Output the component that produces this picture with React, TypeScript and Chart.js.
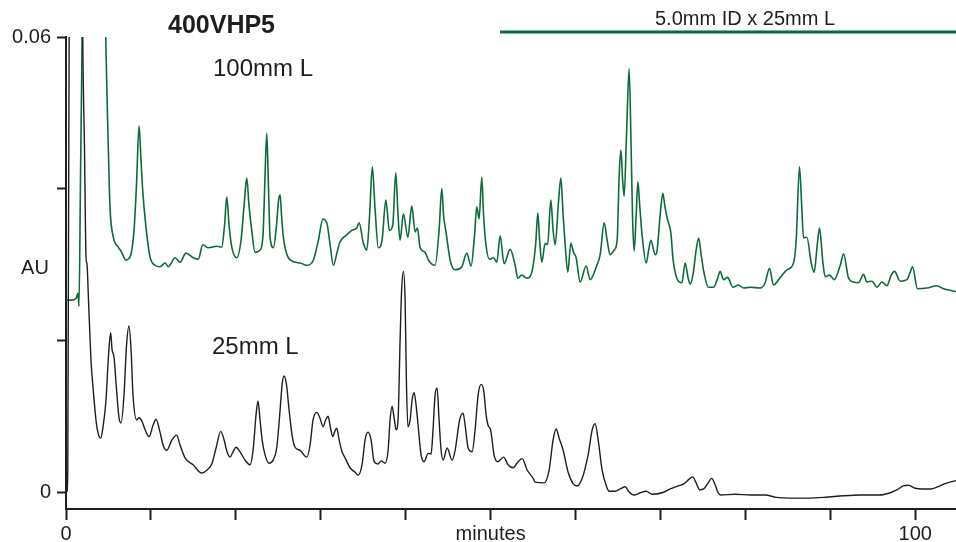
import React, { useEffect, useRef } from "react";
import { Chart, registerables } from "chart.js";

Chart.register(...registerables);

// ---- Data (minutes, AU) ----
const greenTime = [
  0, 0.59, 1.18, 1.41, 1.53, 1.71, 1.85, 2.1, 3.4, 4.4, 4.59,
  4.71, 4.98, 5.18, 5.57, 6.16, 6.56, 7.03, 7.54, 8.01, 8.3, 8.6, 8.83, 9.03, 9.42, 9.89,
  10.48, 11.07, 11.66, 12.05, 12.84, 13.43, 14.13, 14.99, 15.58, 16.1, 16.76, 17.75, 18.34, 18.67,
  18.93, 19.2, 19.52, 20.11, 20.61, 21.02, 21.28, 21.55, 21.87, 22.26, 22.85, 23.2, 23.44, 23.64,
  23.85, 24.03, 24.42, 24.79, 25.03, 25.21, 25.38, 25.59, 26.38, 27.56, 28.35, 29.13, 29.72, 30.24,
  30.71, 31.1, 31.48, 31.92, 32.27, 33.06, 33.65, 34.24, 34.51, 35.02, 35.42, 35.75, 36.07, 36.4,
  36.78, 37.22, 37.66, 38.08, 38.48, 38.83, 39.1, 39.34, 39.73, 40.25, 40.72, 41.11, 41.38, 41.7,
  42.29, 42.67, 43.46, 43.93, 44.25, 44.46, 44.76, 45.23, 45.82, 46.61, 47.19, 47.7, 48.11, 48.37,
  48.64, 48.96, 49.17, 49.43, 49.86, 50.33, 50.73, 51.12, 51.59, 52.3, 52.89, 53.2, 53.68, 54.26,
  54.85, 55.3, 55.56, 55.77, 56.03, 56.42, 56.71, 57.09, 57.36, 57.6, 58.01, 58.27, 58.54, 58.78,
  59.09, 59.45, 59.76, 60.07, 60.54, 61.25, 61.72, 62.51, 62.9, 63.37, 63.72, 64.07, 64.55, 64.9,
  65.14, 65.34, 65.55, 65.72, 66.02, 66.31, 66.55, 66.72, 66.9, 67.14, 67.34, 67.55, 67.81, 68.32,
  68.61, 68.87, 69.38, 69.61, 69.96, 70.28, 70.49, 70.75, 71.02, 71.22, 71.49, 71.93, 72.52, 72.91,
  73.26, 73.5, 73.85, 74.2, 74.5, 74.79, 75.06, 75.65, 76.24, 76.68, 77.03, 77.42, 77.89, 78.53,
  79.19, 79.78, 80.57, 81.74, 82.33, 82.84, 83.31, 84.1, 84.89, 85.67, 85.98, 86.37, 86.63, 86.84,
  87.24, 87.75, 88.1, 88.46, 88.73, 89.13, 89.4, 89.91, 90.46, 91.17, 91.56, 92.15, 92.73, 93.32,
  93.91, 94.31, 94.9, 95.49, 96.08, 96.67, 97.17, 97.56, 98.23, 99.02, 99.41, 99.68, 100.27, 101.37,
  102.55, 103.33, 104.1, 104.8,
];
const greenAU = [
  0.0253, 0.0253, 0.0255, 0.0262, 0.0245, 0.0417, 0.055, 0.08, 0.09, 0.08, 0.068,
  0.0583, 0.0455, 0.0376, 0.0336, 0.0323, 0.0316, 0.0306, 0.031, 0.0345, 0.0405, 0.0483, 0.0438, 0.0398, 0.0349, 0.031,
  0.0299, 0.0297, 0.0302, 0.0297, 0.0309, 0.0303, 0.0315, 0.0309, 0.0307, 0.0326, 0.0322, 0.0324, 0.0323, 0.0352,
  0.0389, 0.0352, 0.0323, 0.0309, 0.0332, 0.0385, 0.0414, 0.0378, 0.0345, 0.0316, 0.0319, 0.0339, 0.0418, 0.0473,
  0.0398, 0.0336, 0.0322, 0.0352, 0.0385, 0.0392, 0.0365, 0.0336, 0.0306, 0.0302, 0.0299, 0.0306, 0.0332, 0.036,
  0.0355, 0.0326, 0.0299, 0.0316, 0.033, 0.0339, 0.0345, 0.0348, 0.0355, 0.0328, 0.0319, 0.0365, 0.0429, 0.0372,
  0.0322, 0.0332, 0.0385, 0.0345, 0.0352, 0.0421, 0.0365, 0.0332, 0.0367, 0.0336, 0.0377, 0.0343, 0.0348, 0.0322,
  0.0316, 0.0306, 0.0299, 0.0345, 0.04, 0.0365, 0.0342, 0.0306, 0.0293, 0.0297, 0.0315, 0.0298, 0.0339, 0.0376,
  0.036, 0.0415, 0.0365, 0.0328, 0.0307, 0.0309, 0.0303, 0.0338, 0.0301, 0.032, 0.0299, 0.0282, 0.0286, 0.0282,
  0.029, 0.0326, 0.0368, 0.0332, 0.0303, 0.0328, 0.0326, 0.0385, 0.0345, 0.0326, 0.0385, 0.0414, 0.0365, 0.0326,
  0.029, 0.0328, 0.0316, 0.0309, 0.0277, 0.0298, 0.028, 0.0299, 0.0313, 0.0355, 0.0332, 0.0313, 0.0319, 0.0332,
  0.0418, 0.0451, 0.0411, 0.039, 0.0477, 0.0558, 0.0451, 0.0359, 0.0318, 0.0365, 0.0409, 0.0379, 0.0342, 0.0302,
  0.0319, 0.0332, 0.0313, 0.0319, 0.0365, 0.0394, 0.0379, 0.0363, 0.0352, 0.0342, 0.0306, 0.0282, 0.0276, 0.0302,
  0.0282, 0.0274, 0.0288, 0.0319, 0.0335, 0.0313, 0.0293, 0.027, 0.027, 0.028, 0.0291, 0.028, 0.0283, 0.027,
  0.0273, 0.0269, 0.027, 0.0269, 0.0276, 0.0295, 0.0273, 0.0283, 0.0293, 0.0302, 0.0332, 0.0429, 0.0378, 0.0335,
  0.0336, 0.0302, 0.029, 0.0326, 0.0348, 0.0302, 0.0284, 0.0286, 0.028, 0.0299, 0.0314, 0.0282, 0.0277, 0.0276,
  0.0287, 0.0277, 0.0278, 0.027, 0.0277, 0.0272, 0.0286, 0.0291, 0.0278, 0.028, 0.029, 0.0297, 0.0268, 0.0269,
  0.0272, 0.0268, 0.0266, 0.0264,
];

const blackTime = [
  0, 0.12, 0.21, 0.45, 1.0, 1.8, 1.97, 2.18, 2.36, 2.47, 2.65, 2.94, 3.18, 3.53, 3.77, 4.09, 4.36,
  4.71, 5.01, 5.26, 5.42, 5.65, 5.95, 6.24, 6.48, 6.83, 7.13, 7.42, 7.66, 7.89, 8.33, 8.6, 8.92,
  9.31, 9.78, 10.25, 10.6, 11.07, 11.43, 11.86, 12.49, 13.04, 13.43, 14.02, 14.96, 15.98, 16.61, 17.2,
  17.67, 18.22, 18.61, 18.96, 19.32, 19.67, 20.02, 20.49, 21.08, 21.67, 22.03, 22.38, 22.61, 22.85,
  23.09, 23.44, 23.91, 24.38, 24.82, 25.21, 25.44, 25.68, 25.97, 26.27, 26.62, 26.97, 27.56, 28.35,
  28.74, 29.09, 29.53, 29.92, 30.27, 30.57, 30.86, 31.15, 31.41, 31.62, 31.88, 32.16, 32.51, 32.86,
  33.45, 34.04, 34.39, 34.86, 35.22, 35.57, 35.92, 36.28, 36.75, 37.1, 37.57, 37.93, 38.16, 38.4,
  38.63, 38.87, 39.1, 39.34, 39.52, 39.73, 39.93, 40.08, 40.26, 40.52, 40.75, 40.99, 41.22, 41.46,
  41.81, 42.17, 42.64, 42.99, 43.22, 43.46, 43.7, 43.93, 44.17, 44.41, 44.88, 45.47, 45.82, 46.35,
  46.76, 47.0, 47.35, 47.82, 48.17, 48.53, 48.88, 49.18, 49.47, 49.7, 50.0, 50.4, 50.85, 51.53,
  52.06, 52.65, 53.24, 53.71, 54.3, 55.01, 55.24, 56.3, 56.89, 57.36, 57.72, 58.07, 58.54, 59.13,
  59.72, 60.19, 60.78, 61.48, 61.96, 62.31, 62.66, 63.13, 63.6, 63.96, 64.66, 65.25, 65.84, 66.31,
  66.9, 67.61, 68.32, 69.02, 70.2, 71.14, 72.08, 72.79, 73.38, 73.79, 74.2, 74.61, 75.09, 75.56,
  76.03, 76.39, 76.75, 77.1, 78.8, 80.57, 82.33, 83.63, 85.28, 87.4, 89.4, 91.52, 93.52,
  95.76, 97.06, 97.88, 98.59, 99.18, 100.0, 100.8, 101.8, 102.7, 103.5, 104.1, 104.8,
];
const blackAU = [
  -0.0001, 0.0001, 0.003, 0.09, 0.12, 0.09, 0.06, 0.0451, 0.0309, 0.0301, 0.0253, 0.0174, 0.0138, 0.0095, 0.0078, 0.0071, 0.0086,
  0.0121, 0.0181, 0.021, 0.0188, 0.0178, 0.0135, 0.0098, 0.0091, 0.0128, 0.0194, 0.0219, 0.0188, 0.0128, 0.0095, 0.0098, 0.0094,
  0.0082, 0.0073, 0.0088, 0.0096, 0.0079, 0.0062, 0.0055, 0.0069, 0.0075, 0.0062, 0.0045, 0.0036, 0.0025, 0.0029, 0.0038,
  0.0058, 0.008, 0.0069, 0.0053, 0.0046, 0.0053, 0.0059, 0.0053, 0.0042, 0.0036, 0.0055, 0.0102, 0.012, 0.0095,
  0.0069, 0.0049, 0.0038, 0.0042, 0.0059, 0.0108, 0.0141, 0.0153, 0.0141, 0.0108, 0.0075, 0.0059, 0.0055, 0.0046,
  0.0062, 0.0095, 0.0105, 0.0097, 0.0086, 0.0095, 0.01, 0.0084, 0.0073, 0.0079, 0.0084, 0.0069, 0.0053, 0.0045,
  0.0032, 0.0026, 0.0022, 0.0036, 0.0069, 0.0079, 0.0069, 0.004, 0.0037, 0.0041, 0.0038, 0.0055, 0.0095, 0.0113,
  0.0098, 0.0082, 0.0095, 0.02, 0.0266, 0.0291, 0.0253, 0.0148, 0.0086, 0.0095, 0.0121, 0.0131, 0.0115, 0.0088,
  0.0049, 0.004, 0.0051, 0.005, 0.0082, 0.0128, 0.0137, 0.0095, 0.0055, 0.0042, 0.0058, 0.0042, 0.0055, 0.0095,
  0.0104, 0.0088, 0.0058, 0.0053, 0.0082, 0.0128, 0.0142, 0.0134, 0.0102, 0.0088, 0.0082, 0.0049, 0.004, 0.0046,
  0.0036, 0.0032, 0.004, 0.0044, 0.0029, 0.0018, 0.0013, 0.0012, 0.0029, 0.0069, 0.0083, 0.0071, 0.0055, 0.0026,
  0.0011, 0.0008, 0.0018, 0.0049, 0.0082, 0.009, 0.0069, 0.0029, 0.0009, 0.0001, 0.0001, 0.0004, 0.0007, 0.0,
  -0.0004, -0.0001, 0.0001, -0.0003, -0.0001, 0.0004, 0.0008, 0.0011, 0.0017, 0.002, 0.0012, 0.0003, 0.0004, 0.0011,
  0.0018, 0.0011, 0.0, -0.0004, -0.0003, -0.0004, -0.0004, -0.0007, -0.0008, -0.0008, -0.0007, -0.0005, -0.0004,
  -0.0004, -0.0001, 0.0003, 0.0008, 0.0009, 0.0005, 0.0004, 0.0004, 0.0007, 0.0011, 0.0013, 0.0015,
];

const xTicks = [0, 10, 20, 30, 40, 50, 60, 70, 80, 90, 100];
const xTickLabels: Record<number, string> = { 0: "0", 50: "minutes", 100: "100" };
const yTicks = [0, 0.02, 0.04, 0.06];
const yTickLabels: Record<string, string> = { "0": "0", "0.06": "0.06" };

const title = "400VHP5";
const greenLabel = "100mm L";
const blackLabel = "25mm L";
const legendText = "5.0mm ID x 25mm L";
const yTitle = "AU";

const GREEN = "#0b6b3c";
const INK = "#1e1e1e";
const FONT = "'Liberation Sans', Arial, Helvetica, sans-serif";

const annotations = {
  id: "annotations",
  afterDraw(chart: any) {
    const ctx = chart.ctx;
    ctx.save();
    ctx.fillStyle = INK;
    ctx.textBaseline = "alphabetic";
    ctx.textAlign = "left";
    ctx.font = `bold 25px ${FONT}`;
    ctx.fillText(title, 168, 33);
    ctx.font = `24px ${FONT}`;
    ctx.fillText(greenLabel, 213, 76);
    ctx.fillText(blackLabel, 212, 354);
    ctx.font = `20px ${FONT}`;
    ctx.textAlign = "center";
    ctx.fillText(legendText, 745, 25);
    ctx.fillText(yTitle, 35, 274);
    ctx.strokeStyle = GREEN;
    ctx.lineWidth = 3;
    ctx.beginPath();
    ctx.moveTo(500, 32);
    ctx.lineTo(956, 32);
    ctx.stroke();
    ctx.restore();
  },
};

export default function App() {
  const ref = useRef<HTMLCanvasElement | null>(null);
  useEffect(() => {
    document.body.style.margin = "0";
    const canvas = ref.current!;
    const chart = new Chart(canvas, {
      type: "line",
      data: {
        datasets: [
          {
            label: blackLabel,
            data: blackTime.map((t, i) => ({ x: t, y: blackAU[i] })),
            borderColor: INK,
            borderWidth: 1.4,
            pointRadius: 0,
            tension: 0,
            cubicInterpolationMode: "monotone",
          },
          {
            label: greenLabel,
            data: greenTime.map((t, i) => ({ x: t, y: greenAU[i] })),
            borderColor: GREEN,
            borderWidth: 1.6,
            pointRadius: 0,
            tension: 0,
            cubicInterpolationMode: "monotone",
          },
        ],
      },
      options: {
        responsive: false,
        animation: false,
        layout: { padding: { top: 37, right: 0, left: 0, bottom: 0 } },
        plugins: { legend: { display: false }, tooltip: { enabled: false } },
        scales: {
          x: {
            type: "linear",
            min: 0,
            max: 104.8,
            afterFit: (s: any) => {
              s.height = 33;
            },
            afterBuildTicks: (s: any) => {
              s.ticks = xTicks.map((v) => ({ value: v }));
            },
            grid: {
              display: true,
              drawOnChartArea: false,
              drawTicks: true,
              tickLength: 11,
              tickWidth: 2,
              tickColor: INK,
            },
            border: { display: true, color: INK, width: 2 },
            ticks: {
              autoSkip: false,
              maxRotation: 0,
              padding: 2,
              color: INK,
              font: { family: FONT, size: 20 },
              callback: (v: any) => xTickLabels[Math.round(Number(v))] ?? "",
            },
          },
          y: {
            type: "linear",
            min: -0.00224,
            max: 0.06,
            afterFit: (s: any) => {
              s.width = 66;
            },
            afterBuildTicks: (s: any) => {
              s.ticks = yTicks.map((v) => ({ value: v }));
            },
            grid: {
              display: true,
              drawOnChartArea: false,
              drawTicks: true,
              tickLength: 9,
              tickWidth: 2,
              tickColor: INK,
            },
            border: { display: true, color: INK, width: 2 },
            ticks: {
              autoSkip: false,
              padding: 6,
              color: INK,
              font: { family: FONT, size: 20 },
              callback: (v: any) => yTickLabels[String(Math.round(Number(v) * 100) / 100)] ?? "",
            },
          },
        },
      },
      plugins: [annotations],
    });
    return () => chart.destroy();
  }, []);
  return <canvas ref={ref} width={956} height={542} style={{ display: "block" }} />;
}
